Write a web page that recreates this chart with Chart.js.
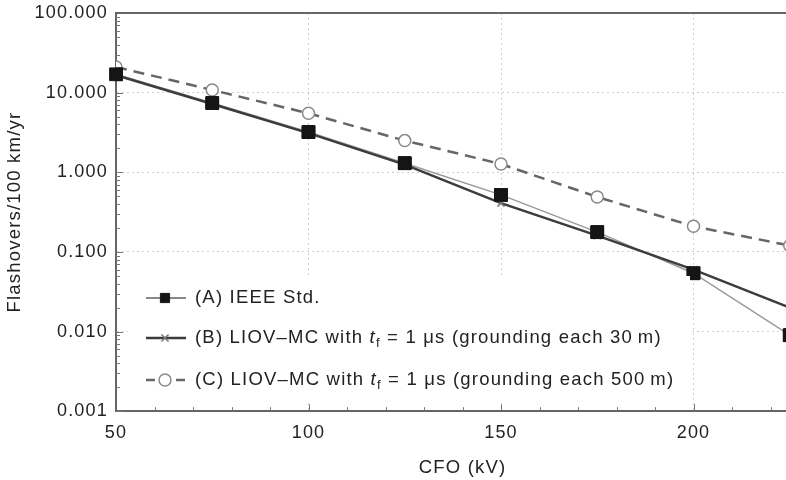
<!DOCTYPE html>
<html>
<head>
<meta charset="utf-8">
<title>Flashover rate vs CFO</title>
<style>
  html, body { margin: 0; padding: 0; background: #fff; overflow: hidden; }
  #frame { width: 819px; height: 480px; }
</style>
</head>
<body>
<div id="frame"><canvas id="chart"></canvas></div>
<script src="https://cdn.jsdelivr.net/npm/chart.js"></script>
<script>
// CFO values (kV) and flashover rates (per 100 km/yr)
const cfo = [50, 75, 100, 125, 150, 175, 200, 225];
const ieeeStd = [17, 7.4, 3.2, 1.3, 0.52, 0.177, 0.054, 0.009];
const liov30m = [16.5, 7.2, 3.1, 1.25, 0.41, 0.16, 0.06, 0.02];
const liov500m = [21, 10.8, 5.5, 2.5, 1.27, 0.49, 0.21, 0.12];

const yTicks = [0.001, 0.01, 0.1, 1, 10, 100];
const xTicks = [50, 100, 150, 200];

// legend text, split so t_f can be set in italic with a subscript
const legendText = [
  [['(A) IEEE Std.', 'n']],
  [['(B) LIOV\u2013MC with ', 'n'], ['t', 'i'], ['f', 's'], [' = 1 \u03bcs (grounding each 30\u2009m)', 'n']],
  [['(C) LIOV\u2013MC with ', 'n'], ['t', 'i'], ['f', 's'], [' = 1 \u03bcs (grounding each 500\u2009m)', 'n']]
];

const FONT = '"Liberation Sans", Arial, sans-serif';
const SPACING = '1.2px';

function pts(ys) {
  return cfo.map((x, i) => ({ x: x, y: ys[i] }));
}

const datasets = [
  {
    label: '(A) IEEE Std.',
    data: pts(ieeeStd),
    borderColor: '#9a9a9a',
    borderWidth: 1.5,
    pointStyle: 'rect',
    pointRadius: 9,
    pointBackgroundColor: '#151515',
    pointBorderColor: '#151515',
    pointBorderWidth: 1,
    order: 2
  },
  {
    label: '(B) LIOV-MC 30 m',
    data: pts(liov30m),
    borderColor: '#3c3c3c',
    borderWidth: 2.5,
    pointStyle: 'crossRot',
    pointRadius: 5,
    pointBorderColor: '#777',
    pointBorderWidth: 1.5,
    order: 1
  },
  {
    label: '(C) LIOV-MC 500 m',
    data: pts(liov500m),
    borderColor: '#666',
    borderWidth: 2.5,
    borderDash: [11, 7],
    pointStyle: 'circle',
    pointRadius: 6,
    pointBackgroundColor: '#fff',
    pointBorderColor: '#8a8a8a',
    pointBorderWidth: 1.5,
    order: 3
  }
];

// the lettering is set a little wide
const spacing = {
  id: 'spacing',
  beforeUpdate(chart) { chart.ctx.letterSpacing = SPACING; },
  beforeDraw(chart) { chart.ctx.letterSpacing = SPACING; }
};

// minor ticks inside the axes, top frame line, squares on top, and legend box
const decor = {
  id: 'decor',
  beforeDatasetsDraw(chart) {
    const ctx = chart.ctx, a = chart.chartArea;
    const xs = chart.scales.x, ys = chart.scales.y;
    ctx.save();
    ctx.strokeStyle = '#777';
    ctx.lineWidth = 1;
    ctx.beginPath();
    for (let e = -3; e < 2; e++) {
      for (let m = 1; m <= 9; m++) {
        const py = Math.round(ys.getPixelForValue(m * Math.pow(10, e))) + 0.5;
        const len = m === 1 ? 7 : 4;
        ctx.moveTo(a.left, py);
        ctx.lineTo(a.left + len, py);
      }
    }
    for (let v = 60; v < 230; v += 10) {
      const px = Math.round(xs.getPixelForValue(v)) + 0.5;
      const len = v % 50 === 0 ? 7 : 4;
      ctx.moveTo(px, a.bottom);
      ctx.lineTo(px, a.bottom - len);
    }
    ctx.stroke();
    ctx.strokeStyle = '#666';
    ctx.lineWidth = 2;
    ctx.beginPath();
    ctx.moveTo(a.left, a.top);
    ctx.lineTo(a.right, a.top);
    ctx.stroke();
    ctx.restore();
  },
  afterDatasetsDraw(chart) {
    const ctx = chart.ctx;
    // keep the IEEE squares above the LIOV line
    chart.getDatasetMeta(0).data.forEach(p => p.draw(ctx, chart.chartArea));

    ctx.save();
    ctx.fillStyle = '#fff';
    ctx.fillRect(128, 276, 562, 126);
    const rows = [298, 338, 380];
    rows.forEach((ry, i) => {
      const ds = chart.data.datasets[i];
      ctx.save();
      ctx.strokeStyle = i === 0 ? '#888' : ds.borderColor;
      ctx.lineWidth = i === 0 ? 2 : ds.borderWidth;
      ctx.setLineDash(i === 2 ? [9, 6] : []);
      ctx.beginPath();
      ctx.moveTo(146, ry);
      ctx.lineTo(186, ry);
      ctx.stroke();
      ctx.setLineDash([]);
      ctx.fillStyle = ds.pointBackgroundColor || '#fff';
      ctx.strokeStyle = ds.pointBorderColor;
      ctx.lineWidth = ds.pointBorderWidth;
      Chart.helpers.drawPoint(ctx, {
        pointStyle: ds.pointStyle,
        radius: i === 0 ? 6.5 : ds.pointRadius,
        rotation: 0,
        borderWidth: ds.pointBorderWidth
      }, 165, ry);
      ctx.restore();

      let tx = 195;
      ctx.fillStyle = '#222';
      ctx.textBaseline = 'middle';
      legendText[i].forEach(([s, kind]) => {
        if (kind === 'i') ctx.font = 'italic 18.5px ' + FONT;
        else if (kind === 's') ctx.font = '13px ' + FONT;
        else ctx.font = '18.5px ' + FONT;
        ctx.fillText(s, tx, kind === 's' ? ry + 5 : ry);
        tx += ctx.measureText(s).width;
      });
    });
    ctx.restore();
  }
};

new Chart(document.getElementById('chart'), {
  type: 'line',
  data: { datasets: datasets },
  plugins: [spacing, decor],
  options: {
    responsive: true,
    maintainAspectRatio: false,
    animation: false,
    layout: { padding: { top: 13, right: 4, bottom: 0, left: 0 } },
    plugins: { legend: { display: false }, tooltip: { enabled: false } },
    scales: {
      x: {
        type: 'linear',
        min: 50,
        max: 230,
        afterBuildTicks: s => { s.ticks = xTicks.map(v => ({ value: v })); },
        ticks: { color: '#222', font: { family: FONT, size: 18 }, padding: 11, maxRotation: 0 },
        grid: { color: '#cfcfcf', lineWidth: 1, drawTicks: false },
        border: { color: '#666', width: 2, dash: [2, 3] },
        title: { display: true, text: 'CFO (kV)', color: '#222', font: { family: FONT, size: 18.5 }, padding: { top: 2, bottom: 1 } }
      },
      y: {
        type: 'logarithmic',
        min: 0.001,
        max: 100,
        afterBuildTicks: s => { s.ticks = yTicks.map(v => ({ value: v, major: true })); },
        afterFit: s => { s.width = 116; s.paddingTop = 0; s.paddingBottom = 0; },
        ticks: { color: '#222', font: { family: FONT, size: 18 }, padding: 8, callback: v => Number(v).toFixed(3) },
        grid: { color: '#cfcfcf', lineWidth: 1, drawTicks: false },
        border: { color: '#666', width: 2, dash: [2, 3] },
        title: { display: true, text: 'Flashovers/100 km/yr', color: '#222', font: { family: FONT, size: 18.5 }, padding: { top: 4, bottom: 4 } }
      }
    }
  }
});
</script>
</body>
</html>
